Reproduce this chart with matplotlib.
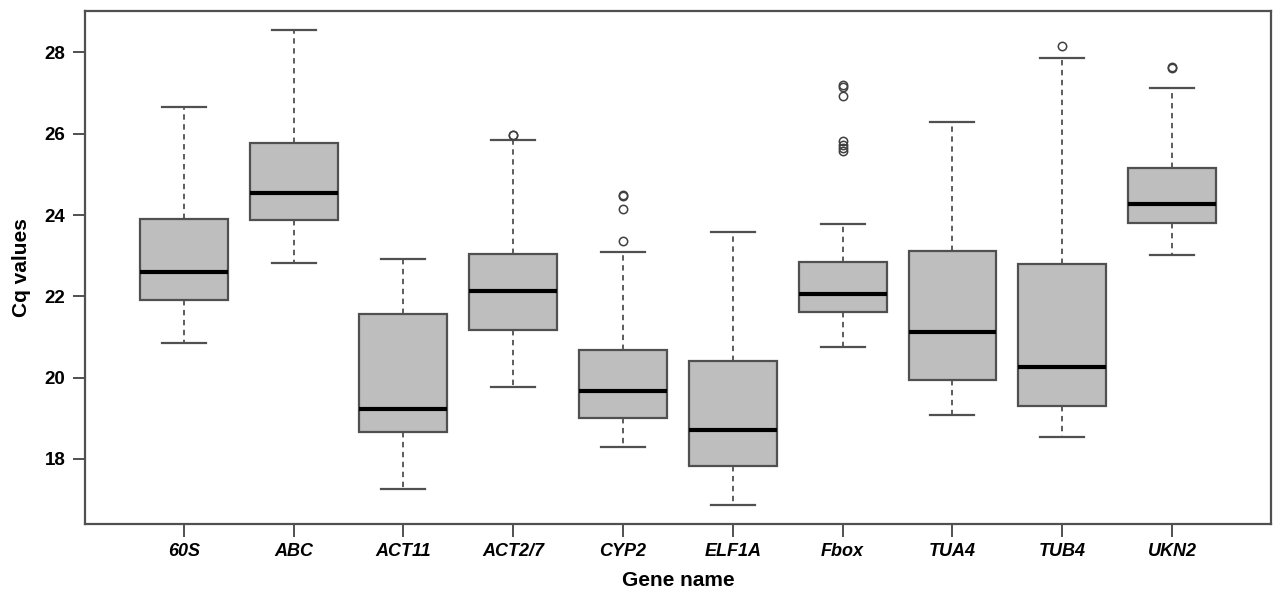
import matplotlib
matplotlib.use("Agg")
import matplotlib.pyplot as plt

# ---------------- Cq values per gene ----------------
genes = ["60S", "ABC", "ACT11", "ACT2/7", "CYP2", "ELF1A", "Fbox", "TUA4", "TUB4", "UKN2"]

whisker_low = [20.85, 22.82, 17.27, 19.77, 18.30, 16.87, 20.75, 19.08, 18.55, 23.02]
q1 = [21.92, 23.88, 18.67, 21.18, 19.00, 17.82, 21.62, 19.95, 19.30, 23.80]
median = [22.60, 24.55, 19.22, 22.12, 19.68, 18.72, 22.05, 21.12, 20.25, 24.27]
q3 = [23.90, 25.77, 21.57, 23.05, 20.67, 20.42, 22.85, 23.12, 22.80, 25.15]
whisker_high = [26.65, 28.55, 22.92, 25.85, 23.10, 23.57, 23.77, 26.30, 27.87, 27.12]

outliers = [
    [],
    [],
    [],
    [25.97, 25.96],
    [24.50, 24.48, 24.15, 23.35],
    [],
    [27.20, 27.15, 26.93, 25.82, 25.72, 25.64, 25.57],
    [],
    [28.15],
    [27.64, 27.61],
]

stats = []
for i, g in enumerate(genes):
    stats.append({
        "label": g,
        "whislo": whisker_low[i],
        "q1": q1[i],
        "med": median[i],
        "q3": q3[i],
        "whishi": whisker_high[i],
        "fliers": outliers[i],
    })

edge = "#505050"

fig = plt.figure(figsize=(12.82, 5.94), dpi=100)
ax = fig.add_axes([0.0663, 0.118, 0.925, 0.8635])

ax.bxp(stats, positions=range(1, len(genes) + 1), widths=0.8,
       patch_artist=True, showfliers=True,
       boxprops=dict(facecolor="#bebebe", edgecolor=edge, linewidth=1.6),
       medianprops=dict(color="black", linewidth=3),
       whiskerprops=dict(color=edge, linewidth=1.3, linestyle=(0, (3, 2.5))),
       capprops=dict(color=edge, linewidth=1.6),
       capwidths=0.4,
       flierprops=dict(marker="o", markerfacecolor="none", markeredgecolor="#404040",
                       markersize=6, markeredgewidth=1.1))

ax.set_xlim(0.1, 10.9)
ax.set_ylim(16.40, 29.02)
ax.set_yticks([18, 20, 22, 24, 26, 28])

for s in ax.spines.values():
    s.set_color(edge)
    s.set_linewidth(1.6)

ax.tick_params(axis="both", direction="out", length=9, width=1.4, color=edge, pad=5)
ax.set_xticklabels(genes, fontsize=13, fontweight="bold", fontstyle="italic",
                   family="Liberation Sans")
for lab in ax.get_yticklabels():
    lab.set_fontsize(13.5)
    lab.set_fontweight("bold")
    lab.set_family("Liberation Sans")

ax.set_xlabel("Gene name", fontsize=15, fontweight="bold", family="Liberation Sans", labelpad=8)
ax.set_ylabel("Cq values", fontsize=15, fontweight="bold", family="Liberation Sans", labelpad=10)

fig.savefig("out.png", dpi=100)
